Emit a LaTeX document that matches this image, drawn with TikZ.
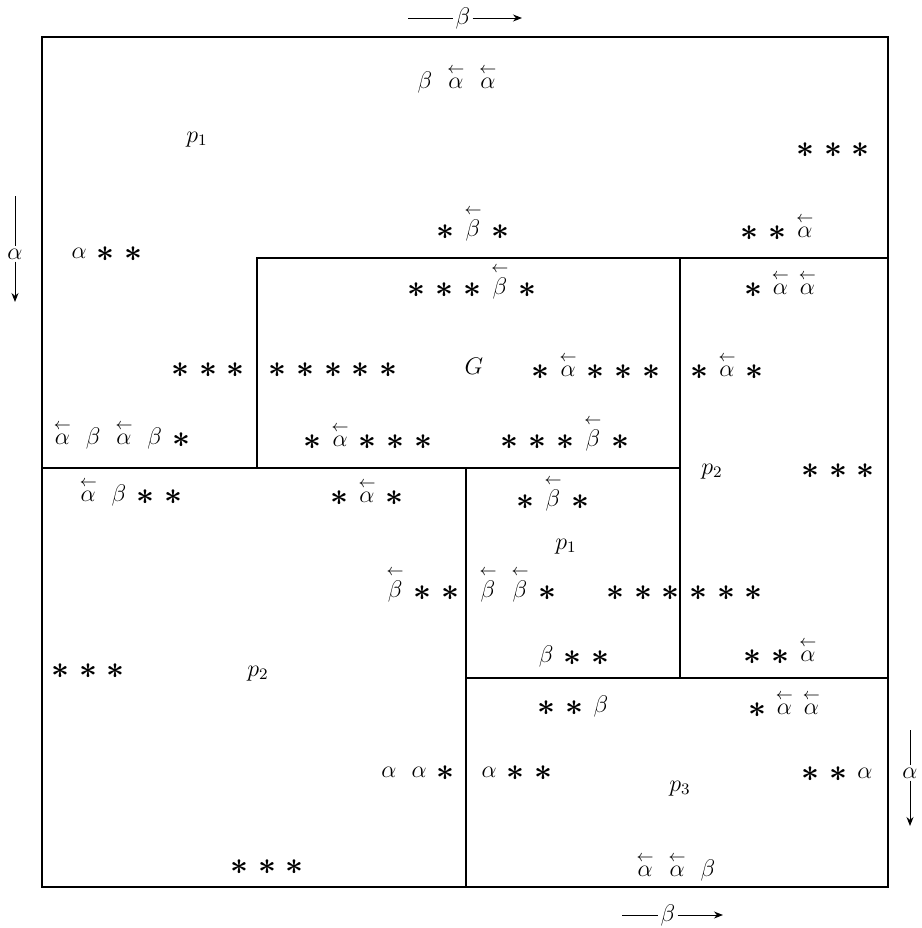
\documentclass[tikz,border=0pt]{standalone}
\usepackage{amsmath}
\usepackage{graphicx}
\usetikzlibrary{arrows.meta}

\newcommand{\st}{\raisebox{-0.12em}{\scalebox{1.3}{$\boldsymbol{\ast}$}}}
\newcommand{\bal}{$\overset{\leftarrow}{\alpha}$}
\newcommand{\bbe}{$\overset{\leftarrow}{\beta}$}
\newcommand{\gap}{\hspace{5pt}}
\newcommand{\wgap}{\hspace{7.5pt}}

\tikzset{
  frame/.style={line width=0.8pt},
  word/.style={anchor=mid, inner sep=0pt, font=\large},
  dirline/.style={line width=0.5pt},
  dirtip/.style={-{Stealth[length=4.5pt,width=3.5pt]}},
}

\begin{document}
\begin{tikzpicture}[x=0.5pt,y=-0.5pt]
    \useasboundingbox (0,0) rectangle (922,928);

    % regions
    \draw[frame] (42,37) rectangle (888,887);
    \draw[frame] (257,468) -- (257,258) -- (888,258);
    \draw[frame] (42,468) -- (680,468);
    \draw[frame] (680,258) -- (680,678);
    \draw[frame] (466,468) -- (466,887);
    \draw[frame] (466,678) -- (888,678);

    % region names
    \node[word] (pa) at (197,138) {$p_1$};
    \node[word] (g)  at (474,370) {$G$};
    \node[word] (pb) at (712,470) {$p_2$};
    \node[word] (pc) at (566,545) {$p_1$};
    \node[word] (pd) at (258,672) {$p_2$};
    \node[word] (pe) at (680,787) {$p_3$};

    % words, top region
    \node[word] (w1) at (457,84) {$\beta$\wgap\bal\wgap\bal};
    \node[word] (w2) at (833,150) {\st\gap\st\gap\st};
    \node[word] (w3) at (107,254) {$\alpha$\gap\st\gap\st};
    \node[word] (w4) at (473,232) {\st\gap\bbe\gap\st};
    \node[word] (w5) at (777,233) {\st\gap\st\gap\bal};
    \node[word] (w6) at (208,370) {\st\gap\st\gap\st};
    \node[word] (w7) at (122,440) {\bal\wgap$\beta$\wgap\bal\wgap$\beta$\gap\st};

    % words, G
    \node[word] (w8)  at (472,290) {\st\gap\st\gap\st\gap\bbe\gap\st};
    \node[word] (w9)  at (333,370) {\st\gap\st\gap\st\gap\st\gap\st};
    \node[word] (w10) at (596,372) {\st\gap\bal\gap\st\gap\st\gap\st};
    \node[word] (w11) at (368,442) {\st\gap\bal\gap\st\gap\st\gap\st};
    \node[word] (w12) at (565,442) {\st\gap\st\gap\st\gap\bbe\gap\st};

    % words, right region
    \node[word] (w13) at (780,290) {\st\gap\bal\gap\bal};
    \node[word] (w14) at (727,372) {\st\gap\bal\gap\st};
    \node[word] (w15) at (838,471) {\st\gap\st\gap\st};
    \node[word] (w16) at (726,593) {\st\gap\st\gap\st};
    \node[word] (w17) at (780,657) {\st\gap\st\gap\bal};

    % words, small box
    \node[word] (w18) at (553,502) {\st\gap\bbe\gap\st};
    \node[word] (w19) at (518,593) {\bbe\wgap\bbe\gap\st};
    \node[word] (w20) at (643,593) {\st\gap\st\gap\st};
    \node[word] (w21) at (574,658) {$\beta$\gap\st\gap\st};

    % words, lower left region
    \node[word] (w22) at (131,497) {\bal\wgap$\beta$\gap\st\gap\st};
    \node[word] (w23) at (367,498) {\st\gap\bal\gap\st};
    \node[word] (w24) at (423,593) {\bbe\gap\st\gap\st};
    \node[word] (w25) at (88,671) {\st\gap\st\gap\st};
    \node[word] (w26) at (418,773) {$\alpha$\wgap$\alpha$\gap\st};
    \node[word] (w27) at (267,867) {\st\gap\st\gap\st};

    % words, lower right region
    \node[word] (w28) at (573,708) {\st\gap\st\gap$\beta$};
    \node[word] (w29) at (784,710) {\st\gap\bal\gap\bal};
    \node[word] (w30) at (517,773) {$\alpha$\gap\st\gap\st};
    \node[word] (w31) at (837,774) {\st\gap\st\gap$\alpha$};
    \node[word] (w32) at (676,872) {\bal\wgap\bal\wgap$\beta$};

    % direction marks
    \node[inner sep=1pt,font=\large] (dt) at (463,18) {$\beta$};
    \coordinate (dt0) at (408,18);
    \coordinate (dt1) at (522,18);
    \draw[dirline] (dt0) -- (dt.west);
    \draw[dirline,dirtip] (dt.east) -- (dt1);

    \node[inner sep=1pt,font=\large] (db) at (668,915) {$\beta$};
    \coordinate (db0) at (622,915);
    \coordinate (db1) at (723,915);
    \draw[dirline] (db0) -- (db.west);
    \draw[dirline,dirtip] (db.east) -- (db1);

    \node[inner sep=1pt,font=\large] (dl) at (15,254) {$\alpha$};
    \coordinate (dl0) at (15,196);
    \coordinate (dl1) at (15,302);
    \draw[dirline] (dl0) -- (dl.north);
    \draw[dirline,dirtip] (dl.south) -- (dl1);

    \node[inner sep=1pt,font=\large] (dr) at (910,773) {$\alpha$};
    \coordinate (dr0) at (910,730);
    \coordinate (dr1) at (910,826);
    \draw[dirline] (dr0) -- (dr.north);
    \draw[dirline,dirtip] (dr.south) -- (dr1);
\end{tikzpicture}
\end{document}
